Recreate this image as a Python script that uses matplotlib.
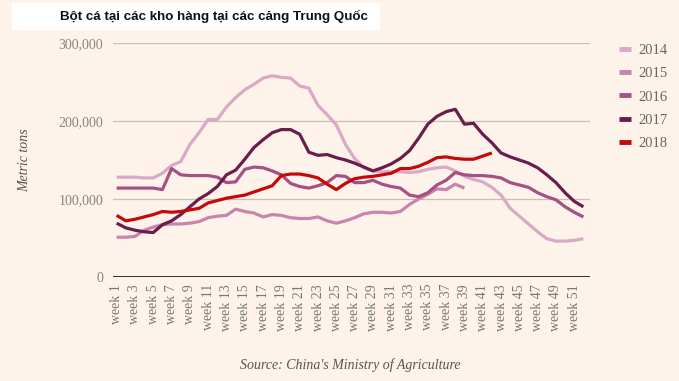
import matplotlib.pyplot as plt
from matplotlib.patches import Rectangle

# weekly fishmeal stocks at Chinese ports, tonnes
weeks = list(range(1, 53))
y2014 = [128000, 128000, 128000, 127000, 127000, 133000, 143000, 148000, 170000, 185000,
         202000, 202000, 218000, 230000, 240000, 247000, 255000, 258000, 256000, 255000,
         245000, 242000, 220000, 208000, 195000, 170000, 152000, 140000, 136000, 135000,
         135000, 135000, 134000, 135000, 138000, 140000, 141000, 136000, 129000, 125000,
         122000, 115000, 105000, 88000, 78000, 68000, 58000, 49000, 46000, 46000,
         47000, 49000]
y2015 = [51000, 51000, 52000, 60000, 64000, 67000, 68000, 68000, 69000, 71000,
         76000, 78000, 79000, 87000, 84000, 82000, 77000, 80000, 79000, 76000,
         75000, 75000, 77000, 72000, 69000, 72000, 76000, 81000, 83000, 83000,
         82000, 84000, 93000, 100000, 106000, 113000, 112000, 119000, 114000]
y2016 = [114000, 114000, 114000, 114000, 114000, 112000, 139000, 131000, 130000, 130000,
         130000, 128000, 121000, 122000, 138000, 141000, 140000, 136000, 131000, 120000,
         116000, 114000, 117000, 121000, 130000, 129000, 121000, 121000, 124000, 119000,
         116000, 114000, 105000, 103000, 108000, 118000, 124000, 134000, 131000, 130000,
         130000, 129000, 127000, 121000, 118000, 115000, 108000, 103000, 99000, 90000,
         83000, 77000]
y2017 = [69000, 63000, 60000, 58000, 57000, 67000, 72000, 80000, 90000, 100000,
         107000, 116000, 131000, 137000, 151000, 166000, 176000, 185000, 189000, 189000,
         183000, 160000, 156000, 157000, 153000, 150000, 146000, 141000, 136000, 140000,
         145000, 152000, 162000, 178000, 196000, 206000, 212000, 215000, 196000, 197000,
         183000, 172000, 159000, 154000, 150000, 146000, 140000, 131000, 121000, 108000,
         97000, 90000]
y2018 = [79000, 72000, 74000, 77000, 80000, 84000, 83000, 84000, 86000, 88000,
         95000, 98000, 101000, 103000, 105000, 109000, 113000, 117000, 130000, 132000,
         132000, 130000, 127000, 119000, 112000, 120000, 126000, 128000, 129000, 131000,
         133000, 139000, 139000, 142000, 147000, 153000, 154000, 152000, 151000, 151000,
         155000, 159000]

years = ['2014', '2015', '2016', '2017', '2018']
series = [y2014, y2015, y2016, y2017, y2018]
colors = ['#d9a9c5', '#c784ad', '#a55183', '#6b1d4a', '#c4090c']

bg = '#fdf3ea'
serif = ['Liberation Serif', 'DejaVu Serif']

fig = plt.figure(figsize=(6.79, 3.81), dpi=100, facecolor=bg)
ax = fig.add_axes([113 / 679, 1 - 277 / 381, 477 / 679, 234 / 381])
ax.set_facecolor(bg)

for yr, vals, c in zip(years, series, colors):
    ax.plot(range(len(vals)), vals, color=c, lw=2.3, label=yr,
            solid_capstyle='butt', solid_joinstyle='round')

ax.set_ylim(0, 300000)
ax.set_xlim(-0.4, 51.72)
ax.set_yticks([0, 100000, 200000, 300000])
ax.set_yticklabels(['0', '100,000', '200,000', '300,000'])
ax.yaxis.grid(True, color='#c9bfb6', lw=0.9)
ax.set_axisbelow(True)
ax.axhline(0, color='#222222', lw=1.3, zorder=1)

ax.set_xticks(range(0, 52, 2))
ax.set_xticklabels([f'week {w}' for w in weeks[::2]], rotation=90)

for s in ax.spines.values():
    s.set_visible(False)
ax.tick_params(axis='both', length=0)
ax.tick_params(axis='y', pad=7, labelcolor='#8a8480', labelsize=10)
ax.tick_params(axis='x', pad=5, labelcolor='#777777', labelsize=10)
for lab in ax.get_xticklabels() + ax.get_yticklabels():
    lab.set_family(serif)

ax.set_ylabel('Metric tons', family=serif, style='italic', fontsize=10,
              color='#555555', labelpad=20)

leg = ax.legend(loc='upper left', bbox_to_anchor=(606 / 679, 1 - 31 / 381),
                bbox_transform=fig.transFigure, frameon=False,
                handlelength=0.8, handletextpad=0.55, labelspacing=0.68,
                prop={'family': serif, 'size': 10.5})
for t in leg.get_texts():
    t.set_color('#666666')
for h in leg.get_lines():
    h.set_linewidth(3.5)

# title box
fig.patches.append(Rectangle((12 / 679, 1 - 30 / 381), 368 / 679, 27 / 381,
                             transform=fig.transFigure, facecolor='white',
                             edgecolor='none', zorder=0))
fig.text(60 / 679, 1 - 16 / 381, 'Bột cá tại các kho hàng tại các cảng Trung Quốc',
         family=['Liberation Sans', 'DejaVu Sans'], weight='bold', fontsize=9.6,
         color='#111111', va='center', ha='left')

fig.text(350 / 679, 1 - 365 / 381, "Source: China's Ministry of Agriculture",
         family=serif, style='italic', fontsize=10, color='#555555',
         ha='center', va='center')

fig.savefig('out.png', dpi=100, facecolor=bg)
